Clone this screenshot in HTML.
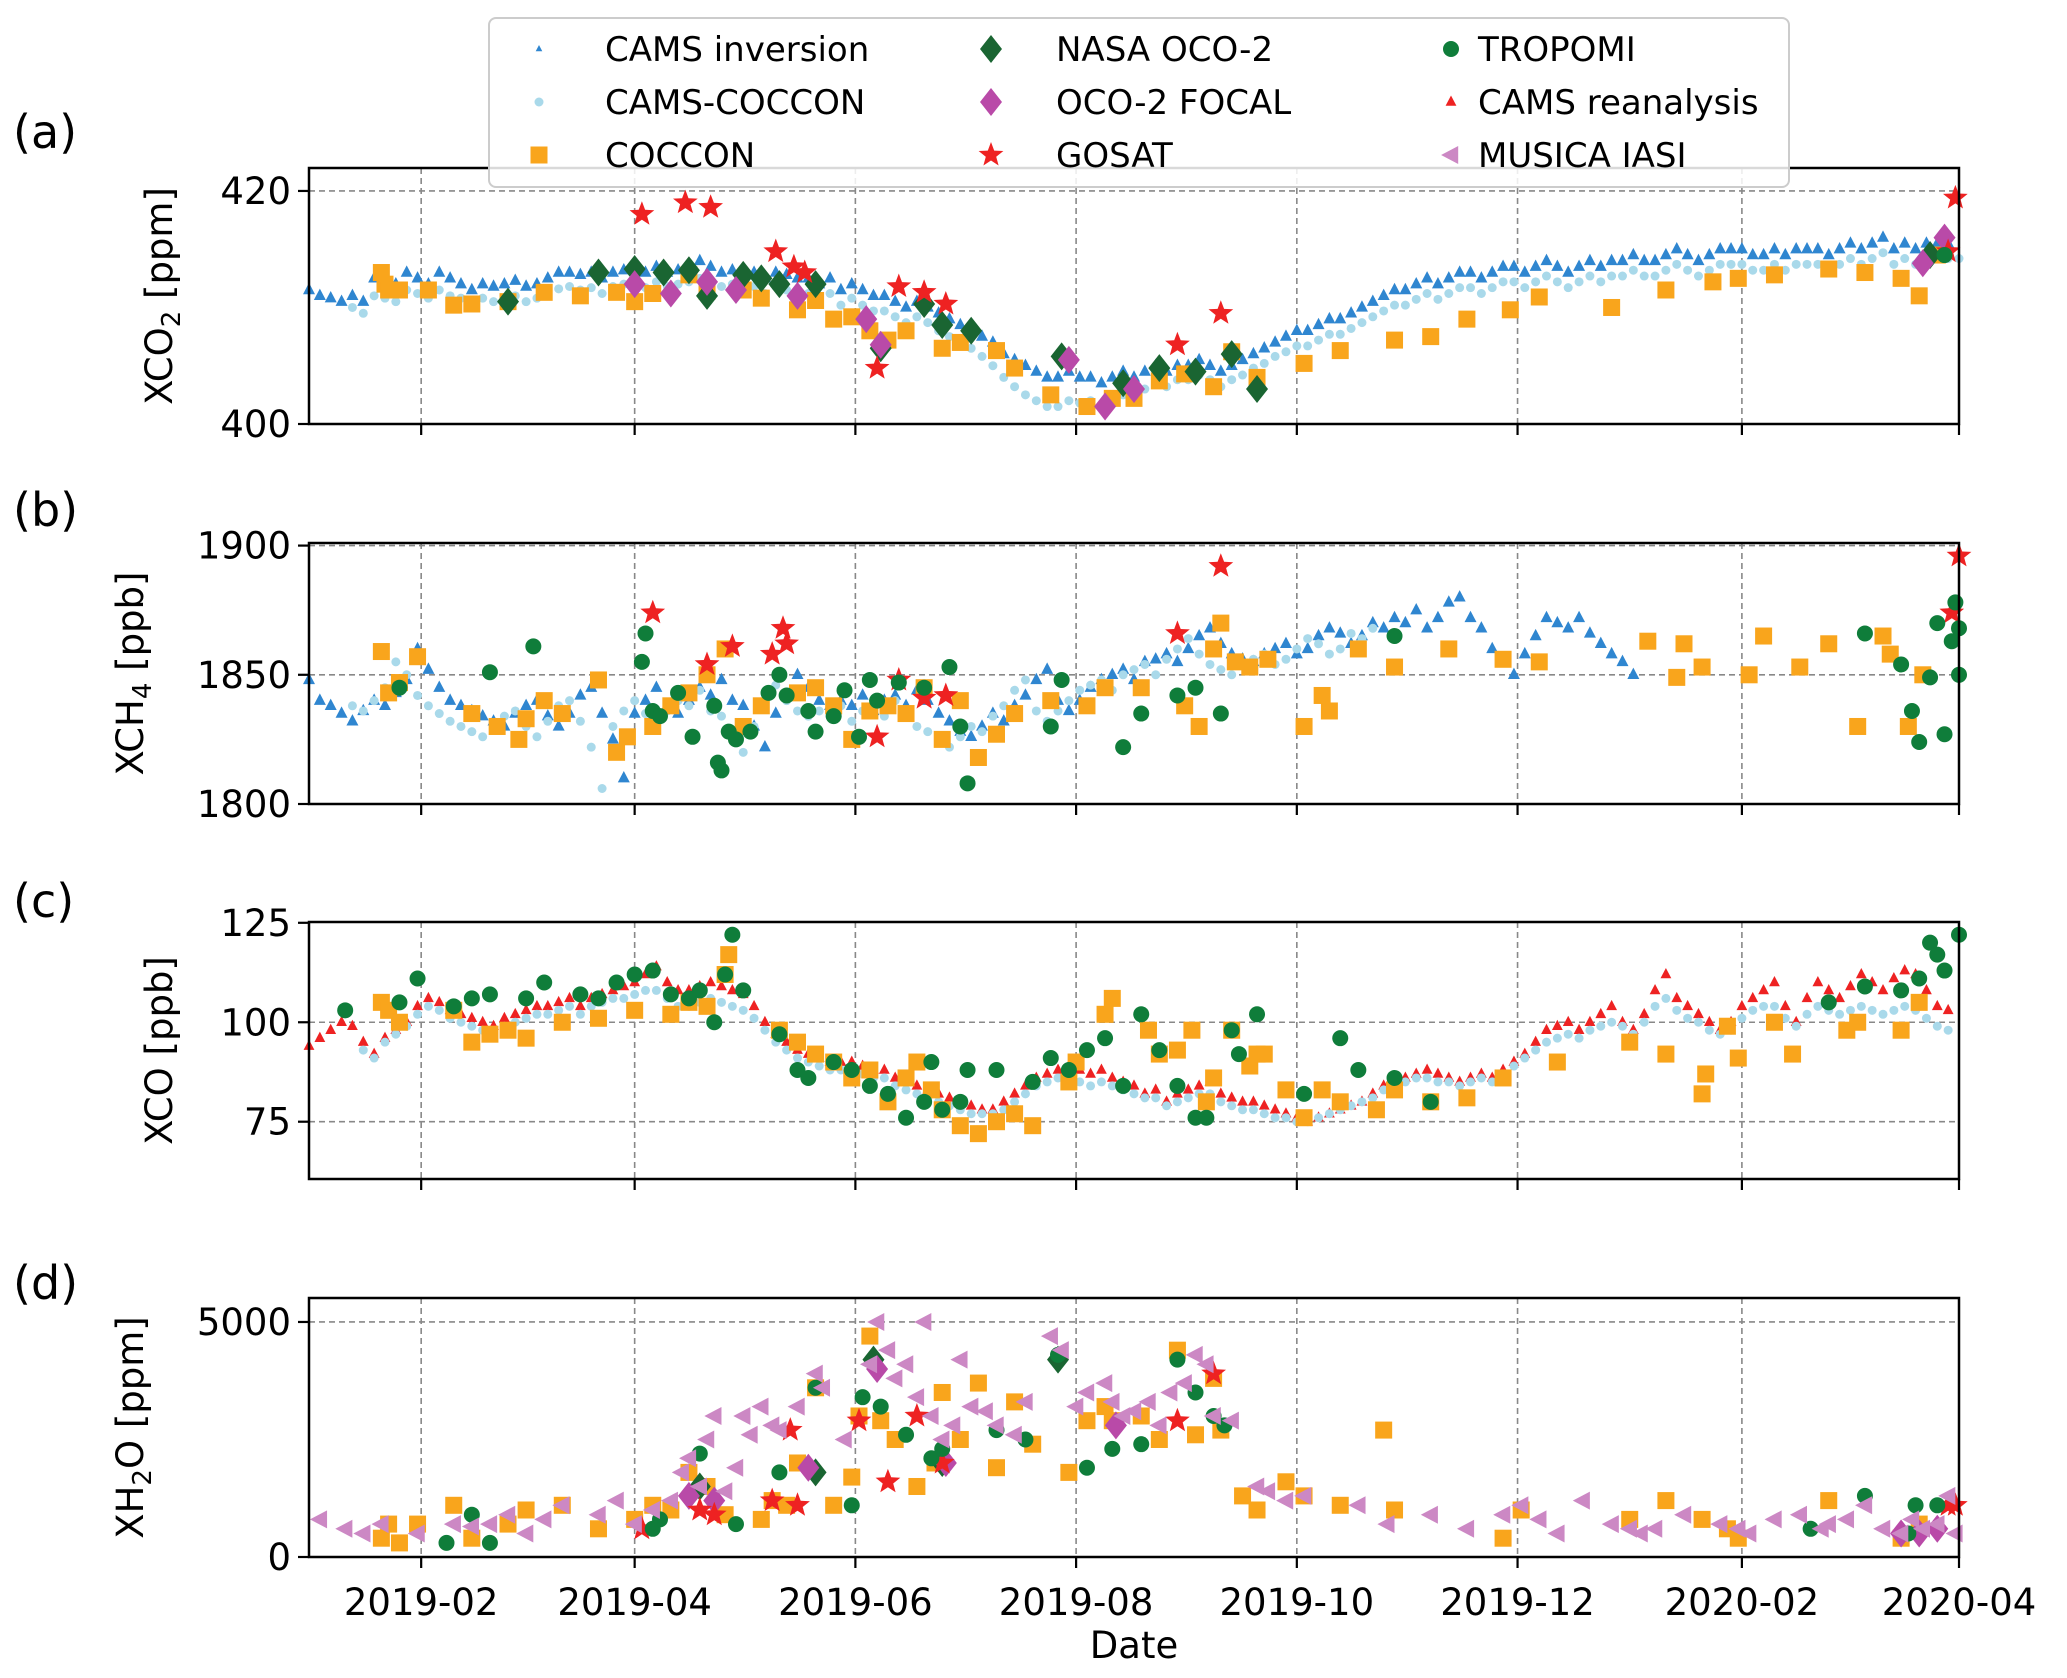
<!DOCTYPE html>
<html><head><meta charset="utf-8"><style>
html,body{margin:0;padding:0;background:#fff;}
svg{display:block;font-family:"DejaVu Sans","Liberation Sans",sans-serif;}
</style></head><body>
<svg id="fig" width="2067" height="1678" viewBox="0 0 2067 1678" xmlns="http://www.w3.org/2000/svg"></svg>
<script>
// ---------- DATA (days since 2019-01-01) ----------
const monthTickDays=[31,90,151,212,273,334,396,456];
const monthTickLabels=["2019-02","2019-04","2019-06","2019-08","2019-10","2019-12","2020-02","2020-04"];

// Panel a: XCO2
const invA_start=0, invA_step=3;
const invA_vals=[411.5,411,410.8,410.5,411,410.5,412.5,412,412,413,412.5,412,413,412.5,412,411.5,412,411.8,412,412.3,411.8,412,412.5,413,413,412.8,413,412.5,413,413.2,412.8,413,413.5,413,413.2,413.5,414,413.5,413,413.2,413,413,412.5,413,412.8,412.5,412.5,412,412.5,411.5,412,411.5,411,411,410.5,410,410.5,410,409.5,409,408.5,408,407.5,407,406,405.5,405,404.5,404,404,404.5,404,404,403.5,404,404.5,404,404.5,405,404.5,405,405,405.5,405,404.5,405,405.5,406,406.5,407,407.5,408,408,408.5,409,409,409.5,410,410.5,411,411.5,411.5,412,412.5,412,412.5,413,413,412.5,413,413.5,413.5,413,413.5,414,413.5,413,413.5,414,413.5,414,414,414.5,414,414,414.5,415,414.5,414,414.5,415,415,415,414.5,414.5,415,414.5,415,415,415,414.5,415,415.5,415,415.5,416,415,415.5,415,415.5,415.5,415.5];
const ccA_start=12, ccA_step=3;
const ccA_vals=[410,409.5,411,410.8,410.5,411.5,411.2,410.8,411.5,411,410.8,410.2,410.8,410.5,410.8,411,410.5,410.8,411.2,411.6,411.8,411.5,411.7,411.2,411.8,412,411.5,411.7,412.2,411.8,412,412.2,412.5,412.2,411.8,412,411.7,411.8,411.2,411.8,411.5,411.2,411.2,410.7,411.2,410.2,410.8,410.2,409.7,409.7,409.2,408.7,409.2,408.7,408,407.5,407,406.5,405.8,405,404,403.2,402.5,402,401.5,401.5,402,401.8,402,401.5,402,402.5,402.5,403,403.5,403.2,403.8,403.8,404.2,403.8,403.2,403.8,404.2,404.8,405.2,405.8,406.2,406.7,406.7,407.2,407.7,407.7,408.2,408.7,409.2,409.7,410.2,410.2,410.7,411.2,410.7,411.2,411.7,411.7,411.2,411.7,412.2,412.2,411.7,412.2,412.7,412.2,411.7,412.2,412.7,412.2,412.7,412.7,413.2,412.7,412.7,413.2,413.7,413.2,412.7,413.2,413.7,413.7,413.7,413.2,413.2,413.7,413.2,413.7,413.7,413.7,413.2,413.7,414.2,413.7,414.2,414.7,413.7,414.2,413.7,414.2,414.2,414.2,414.2];
const cocA_days=[20,21,22,25,33,40,45,55,65,75,85,90,95,105,110,120,125,135,140,145,150,155,160,165,175,180,190,195,205,215,222,228,235,242,250,255,262,275,285,300,310,320,332,340,360,375,388,395,405,420,430,440,445,450];
const cocA_vals=[413,412,411.5,411.5,411.5,410.2,410.3,410.5,411.3,411,411.3,410.5,411.2,412.8,411.4,411.5,410.8,409.8,410.6,409,409.2,408,407.2,408,406.5,407,406.3,404.8,402.5,401.5,402.2,402.2,403.7,404.3,403.2,406.2,404,405.2,406.3,407.2,407.5,409,409.8,410.9,410,411.5,412.2,412.5,412.8,413.3,413,412.5,411,414.5];
const ocoA_days=[55,80,90,98,105,110,120,125,130,140,158,170,175,183,208,225,235,245,255,262,448];
const ocoA_vals=[410.5,413,413.3,413,413.2,411,412.8,412.5,412,412,406.5,410.3,408.5,408,405.8,403.5,404.8,404.5,406,403,414.5];
const focA_days=[90,100,110,118,135,154,158,210,220,228,446,452];
const focA_vals=[412,411.2,412.2,411.5,411,409,406.8,405.5,401.5,403,413.8,416];
const gosA_days=[92,104,111,129,134,137,157,163,170,176,240,252,453,455];
const gosA_vals=[418,419,418.6,414.8,413.5,413,404.8,411.8,411.3,410.3,406.8,409.5,414.8,419.4];
const troA_days=[452];
const troA_vals=[414.5];

// Panel b: XCH4
const invB_start=0, invB_step=3;
const invB_vals=[1848,1840,1838,1835,1832,1836,1840,1838,1843,1848,1860,1852,1845,1840,1838,1836,1834,1832,1830,1835,1838,1840,1834,1830,1835,1842,1845,1835,1825,1810,1835,1840,1845,1838,1835,1840,1845,1842,1848,1840,1838,1830,1822,1835,1842,1850,1845,1840,1838,1840,1838,1842,1836,1840,1842,1838,1844,1840,1835,1832,1828,1826,1830,1835,1832,1838,1842,1848,1852,1840,1836,1840,1845,1848,1850,1852,1848,1855,1856,1858,1855,1860,1865,1868,1862,1858,1856,1855,1858,1860,1862,1858,1860,1865,1868,1866,1862,1865,1870,1868,1872,1870,1875,1868,1872,1878,1880,1872,1868,1860,1855,1850,1858,1865,1872,1870,1868,1872,1866,1862,1858,1855,1850];
const ccB_start=12, ccB_step=3;
const ccB_vals=[1838,1836,1840,1845,1855,1850,1842,1838,1835,1832,1830,1828,1826,1830,1834,1836,1830,1826,1832,1838,1840,1832,1822,1806,1830,1836,1840,1835,1832,1836,1840,1838,1844,1836,1834,1826,1820,1830,1838,1846,1840,1836,1834,1836,1834,1838,1832,1836,1838,1834,1840,1836,1830,1828,1824,1822,1826,1830,1828,1834,1838,1844,1848,1836,1832,1836,1840,1844,1846,1848,1844,1850,1852,1854,1850,1856,1860,1864,1858,1854,1852,1850,1854,1856,1858,1854,1856,1860,1864,1862,1858,1860,1866,1864,1868];
const cocB_days=[20,22,25,30,45,52,58,60,65,70,80,85,88,95,100,105,110,115,120,125,135,140,145,150,155,160,165,170,175,180,185,190,195,205,215,220,230,242,246,250,252,256,260,265,275,280,282,290,300,315,330,340,370,378,380,385,398,402,412,420,428,435,437,442,446];
const cocB_vals=[1859,1843,1847,1857,1835,1830,1825,1833,1840,1835,1848,1820,1826,1830,1838,1843,1850,1860,1830,1838,1843,1845,1838,1825,1836,1838,1835,1845,1825,1840,1818,1827,1835,1840,1838,1845,1845,1838,1830,1860,1870,1855,1853,1856,1830,1842,1836,1860,1853,1860,1856,1855,1863,1849,1862,1853,1850,1865,1853,1862,1830,1865,1858,1830,1850];
const troB_days=[25,50,62,92,93,95,97,102,106,112,113,114,116,118,122,127,130,132,138,140,145,148,152,155,157,163,170,177,180,182,205,208,225,230,240,245,252,300,430,440,443,445,448,450,452,454,455,456,456];
const troB_vals=[1845,1851,1861,1855,1866,1836,1834,1843,1826,1838,1816,1813,1828,1825,1828,1843,1850,1842,1836,1828,1834,1844,1826,1848,1840,1847,1845,1853,1830,1808,1830,1848,1822,1835,1842,1845,1835,1865,1866,1854,1836,1824,1849,1870,1827,1863,1878,1868,1850];
const gosB_days=[95,110,117,128,131,132,157,163,170,176,240,252,454,456];
const gosB_vals=[1874,1854,1861,1858,1868,1862,1826,1848,1841,1842,1866,1892,1874,1896];

// Panel c: XCO
const reaC_start=0, reaC_step=3;
const reaC_vals=[94,96,98,100,99,95,92,96,98,100,104,106,105,103,102,101,100,99,101,102,103,104,104,105,106,104,106,107,108,109,110,112,114,110,108,108,109,110,109,108,107,104,100,97,95,93,92,91,90,90,90,89,88,88,86,85,84,83,82,81,80,79,78,78,80,82,84,86,87,88,89,88,87,88,86,85,84,82,83,80,82,83,84,85,82,81,80,80,79,78,77,76,75,76,77,78,79,80,82,84,85,86,87,88,87,86,85,86,87,86,88,90,92,95,98,99,100,98,100,102,104,100,98,102,108,112,106,104,102,100,98,100,104,106,108,110,104,100,106,110,108,106,109,112,110,108,111,113,112,108,104,103];
const ccC_start=15, ccC_step=3;
const ccC_vals=[93,91,95,97,99,102,104,103,101,100,99,98,97,99,100,101,102,102,103,104,102,104,105,106,106,107,108,108,106,104,104,105,106,105,104,103,101,98,95,93,91,90,89,88,88,88,87,86,86,84,83,82,81,80,79,78,77,77,77,78,80,82,84,85,86,86,85,84,85,84,83,82,81,81,79,80,81,82,82,80,79,78,78,77,76,76,75,75,76,77,78,79,80,81,83,84,85,86,86,85,85,84,85,86,85,87,89,91,93,95,96,97,96,98,99,100,99,97,100,104,106,103,101,100,98,97,98,101,103,104,104,101,99,102,104,103,102,103,104,103,102,103,104,103,101,99,98];
const cocC_days=[20,22,25,40,45,50,55,60,70,80,90,100,105,110,115,116,130,135,140,145,150,155,160,165,168,172,175,180,185,190,195,200,210,212,220,222,232,235,240,244,248,250,255,260,262,264,270,275,280,285,295,300,310,320,330,345,365,375,385,386,392,395,405,410,425,428,440,445];
const cocC_vals=[105,103,100,103,95,97,98,96,100,101,103,102,105,104,112,117,98,95,92,90,86,88,80,86,90,83,78,74,72,75,77,74,85,90,102,106,98,92,93,98,80,86,98,89,92,92,83,76,83,80,78,83,80,81,86,90,95,92,82,87,99,91,100,92,98,100,98,105];
const troC_days=[10,25,30,40,45,50,60,65,75,80,85,90,95,100,105,108,112,115,117,120,130,135,138,145,150,155,160,165,170,172,175,180,182,190,200,205,210,215,220,225,230,235,240,245,248,255,257,262,275,285,290,300,310,420,430,440,445,448,450,452,456];
const troC_vals=[103,105,111,104,106,107,106,110,107,106,110,112,113,107,106,108,100,112,122,108,97,88,86,90,88,84,82,76,80,90,78,80,88,88,85,91,88,93,96,84,102,93,84,76,76,98,92,102,82,96,88,86,80,105,109,108,111,120,117,113,122];

// Panel d: XH2O
const iasD_days=[3,10,15,20,30,40,45,50,55,60,65,70,80,85,90,95,100,103,105,108,110,112,115,118,120,122,125,128,130,135,140,142,148,155,157,160,162,165,168,170,172,175,178,180,183,187,190,195,198,205,208,212,215,220,222,225,228,232,235,238,242,245,248,250,255,262,265,270,275,290,298,310,320,330,335,340,345,352,360,365,368,372,380,390,395,398,405,412,418,420,425,430,435,440,443,446,450,453,455];
const iasD_vals=[800,600,500,700,500,700,650,700,900,500,800,1100,900,1200,700,1000,1200,1800,2100,1500,2500,3000,1400,1900,3000,2600,3200,2800,2700,3200,3900,3600,2500,4100,5000,4400,3800,4100,3400,5000,3000,2500,2800,4200,3200,3100,2800,2600,3300,4700,4400,3200,3500,3700,3300,3000,3100,3300,2800,3500,3700,4300,4100,3000,2900,1500,1400,1200,1300,1100,700,900,600,900,1100,800,500,1200,700,600,500,600,900,700,600,500,800,900,600,700,800,1100,600,500,800,600,700,1300,500];
const cocD_days=[20,22,25,30,40,45,55,60,70,80,90,95,100,105,110,115,125,128,132,135,140,145,150,152,155,158,162,168,173,175,180,185,190,195,200,210,215,220,222,230,235,240,245,250,252,258,262,270,275,285,297,300,330,335,365,375,385,392,395,420,440,445];
const cocD_vals=[400,700,300,700,1100,400,700,1000,1100,600,800,1100,1000,1800,1500,900,800,1200,1100,2000,3600,1100,1700,3000,4700,2900,2500,1500,2000,3500,2500,3700,1900,3300,2400,1800,2900,3200,2900,3000,2500,4400,2600,3800,2700,1300,1000,1600,1300,1100,2700,1000,400,1000,800,1200,800,600,400,1200,400,700];
const troD_days=[38,45,50,95,97,108,118,130,140,150,153,158,165,172,175,190,198,207,215,222,230,240,245,250,253,415,430,442,444,450];
const troD_vals=[300,900,300,600,800,2200,700,1800,3600,1100,3400,3200,2600,2100,2300,2700,2500,4300,1900,2300,2400,4200,3500,3000,2800,600,1300,500,1100,1100];
const gosD_days=[92,108,112,128,133,135,152,160,168,175,240,250,453,455];
const gosD_vals=[600,1000,900,1200,2700,1100,2900,1600,3000,2000,2900,3900,1100,1100];
const focD_days=[105,112,138,157,176,223,440,445,450];
const focD_vals=[1300,1200,1900,4000,2000,2800,500,500,600];
const ocoD_days=[108,140,156,175,207];
const ocoD_vals=[1500,1800,4200,2000,4200];

// ---------- RENDER ----------
const NS="http://www.w3.org/2000/svg";
const svg=document.getElementById('fig');
const X0=309, X1=1959, DMAX=456;
const xs=d=>X0+(d/DMAX)*(X1-X0);
const panels={
 a:{top:168,bot:424,min:400,max:421.97,ticks:[400,420],label:'XCO',sub:'2',unit:' [ppm]',lx:172,letter:'(a)',ly:132},
 b:{top:543,bot:804,min:1800,max:1901,ticks:[1800,1850,1900],label:'XCH',sub:'4',unit:' [ppb]',lx:143,letter:'(b)',ly:510},
 c:{top:922,bot:1179,min:60.6,max:125.2,ticks:[75,100,125],label:'XCO',sub:'',unit:' [ppb]',lx:172,letter:'(c)',ly:901},
 d:{top:1298,bot:1557,min:0,max:5510,ticks:[0,5000],label:'XH',sub:'2',unit:'O [ppm]',lx:143,letter:'(d)',ly:1283}
};
function el(tag,attrs,parent){const e=document.createElementNS(NS,tag);for(const k in attrs)e.setAttribute(k,attrs[k]);(parent||svg).appendChild(e);return e;}
function ys(p,v){return p.bot-(v-p.min)/(p.max-p.min)*(p.bot-p.top);}

const C={inv:'#2f86d0',cc:'#a9d9ea',coc:'#f9a51c',oco:'#1a6532',foc:'#b94aa8',gos:'#ee2222',tro:'#0f7d3a',rea:'#ee2222',ias:'#cc88c4'};

function marker(kind,x,y,g,s){
 s=s||1;
 if(kind==='tri'){const r=6*s;return el('path',{d:`M${x},${y-r*1.2}L${x+r},${y+r*0.7}L${x-r},${y+r*0.7}Z`},g);}
 if(kind==='cc'){return el('circle',{cx:x,cy:y,r:4.5},g);}
 if(kind==='sq'){const h=8.5;return el('rect',{x:x-h,y:y-h,width:2*h,height:2*h},g);}
 if(kind==='dia'){const w=11,h=14;return el('path',{d:`M${x},${y-h}L${x+w},${y}L${x},${y+h}L${x-w},${y}Z`},g);}
 if(kind==='star'){let d='';for(let i=0;i<10;i++){const r=i%2?5.5:13;const a=-Math.PI/2+i*Math.PI/5;d+=(i?'L':'M')+(x+r*Math.cos(a)).toFixed(1)+','+(y+r*Math.sin(a)).toFixed(1);}return el('path',{d:d+'Z'},g);}
 if(kind==='circ'){return el('circle',{cx:x,cy:y,r:8},g);}
 if(kind==='ltri'){const r=9;return el('path',{d:`M${x-r*1.1},${y}L${x+r*0.8},${y-r}L${x+r*0.8},${y+r}Z`},g);}
}

for(const key in panels){
 const p=panels[key];
 const g=el('g',{});
 
 
 p.g=g;
 const grid=el('g',{stroke:'#888','stroke-width':1.6,'stroke-dasharray':'6,4'},g);
 
 
 monthTickDays.forEach(d=>{if(d<DMAX)el('line',{x1:xs(d),x2:xs(d),y1:p.top,y2:p.bot},grid);});
 p.ticks.forEach(v=>{const y=ys(p,v);if(y>p.top+2&&y<p.bot-2)el('line',{x1:X0,x2:X1,y1:y,y2:y},grid);});
 p.plot=el('g',{},g);
 
 
}

function series(pk,days,vals,kind,color,name,s){
 const p=panels[pk];
 const g=el('g',{fill:color},p.plot);
 
 
 for(let i=0;i<vals.length;i++){const m=marker(kind,xs(days[i]),ys(p,vals[i]),g,s);
  
  }
}
function stepDays(start,step,n){const a=[];for(let i=0;i<n;i++)a.push(start+i*step);return a;}

series('a',stepDays(invA_start,invA_step,invA_vals.length),invA_vals,'tri',C.inv,'cams-inversion-a');
series('a',stepDays(ccA_start,ccA_step,ccA_vals.length),ccA_vals,'cc',C.cc,'cams-coccon-a');
series('a',cocA_days,cocA_vals,'sq',C.coc,'coccon-a');
series('a',ocoA_days,ocoA_vals,'dia',C.oco,'nasa-oco2-a');
series('a',focA_days,focA_vals,'dia',C.foc,'oco2-focal-a');
series('a',gosA_days,gosA_vals,'star',C.gos,'gosat-a');
series('a',troA_days,troA_vals,'circ',C.tro,'tropomi-a');

series('b',stepDays(invB_start,invB_step,invB_vals.length),invB_vals,'tri',C.inv,'cams-inversion-b');
series('b',stepDays(ccB_start,ccB_step,ccB_vals.length),ccB_vals,'cc',C.cc,'cams-coccon-b');
series('b',cocB_days,cocB_vals,'sq',C.coc,'coccon-b');
series('b',gosB_days,gosB_vals,'star',C.gos,'gosat-b');
series('b',troB_days,troB_vals,'circ',C.tro,'tropomi-b');

series('c',stepDays(reaC_start,reaC_step,reaC_vals.length),reaC_vals,'tri',C.rea,'cams-reanalysis-c',0.9);
series('c',stepDays(ccC_start,ccC_step,ccC_vals.length),ccC_vals,'cc',C.cc,'cams-coccon-c');
series('c',cocC_days,cocC_vals,'sq',C.coc,'coccon-c');
series('c',troC_days,troC_vals,'circ',C.tro,'tropomi-c');

series('d',cocD_days,cocD_vals,'sq',C.coc,'coccon-d');
series('d',ocoD_days,ocoD_vals,'dia',C.oco,'nasa-oco2-d');
series('d',focD_days,focD_vals,'dia',C.foc,'oco2-focal-d');
series('d',gosD_days,gosD_vals,'star',C.gos,'gosat-d');
series('d',troD_days,troD_vals,'circ',C.tro,'tropomi-d');
series('d',iasD_days,iasD_vals,'ltri',C.ias,'musica-iasi-d');

for(const key in panels){
 const p=panels[key], g=p.g;
 const fr=el('rect',{x:X0,y:p.top,width:X1-X0,height:p.bot-p.top,fill:'none',stroke:'#000','stroke-width':2.5},g);
 
 
 monthTickDays.forEach(d=>{el('line',{x1:xs(d),x2:xs(d),y1:p.bot,y2:p.bot+11,stroke:'#000','stroke-width':2.2},g);});
 p.ticks.forEach(v=>{const y=ys(p,v);
  el('line',{x1:X0-11,x2:X0,y1:y,y2:y,stroke:'#000','stroke-width':2.2},g);
  const t=el('text',{x:X0-18,y:y+13,'text-anchor':'end','font-size':37,fill:'#000'},g);
  t.textContent=v;
  
  
 });
 const cy=(p.top+p.bot)/2;
 const yl=el('text',{x:p.lx,y:cy,'text-anchor':'middle','font-size':37,transform:`rotate(-90 ${p.lx} ${cy})`},g);
 
 
 yl.innerHTML=p.label+(p.sub?`<tspan font-size="26" dy="8">${p.sub}</tspan><tspan dy="-8">${p.unit}</tspan>`:`<tspan>${p.unit}</tspan>`);
 const pl=el('text',{x:13,y:p.ly+16,'font-size':46},g);
 pl.textContent=p.letter;
 
 
}
monthTickDays.forEach((d,i)=>{
 const t=el('text',{x:xs(d),y:1615,'text-anchor':'middle','font-size':37});
 t.textContent=monthTickLabels[i];
 
 
});
const xt=el('text',{x:(X0+X1)/2,y:1658,'text-anchor':'middle','font-size':37});
xt.textContent='Date';



const lg=el('g',{});


el('rect',{x:489,y:18,width:1300,height:169,rx:7,fill:'#fff','fill-opacity':0.85,stroke:'#ccc','stroke-width':2},lg);
const legNames=["CAMS inversion","CAMS-COCCON","COCCON","NASA OCO-2","OCO-2 FOCAL","GOSAT","TROPOMI","CAMS reanalysis","MUSICA IASI"];
const legKinds=['tri','cc','sq','dia','dia','star','circ','tri','ltri'];
const legColors=[C.inv,C.cc,C.coc,C.oco,C.foc,C.gos,C.tro,C.rea,C.ias];
const colMx=[539,991,1451], colTx=[605,1056,1478], rowY=[49,102,155];
legNames.forEach((n,i)=>{
 const c=Math.floor(i/3), r=i%3;
 const e=el('g',{},lg);
 
 
 const mg=el('g',{fill:legColors[i]},e);
 marker(legKinds[i],colMx[c],rowY[r],mg,legKinds[i]==='tri'?(i===0?0.55:0.9):1);
 const t=el('text',{x:colTx[c],y:rowY[r]+12,'font-size':34},e);
 t.textContent=n;
});
</script>
</body></html>
